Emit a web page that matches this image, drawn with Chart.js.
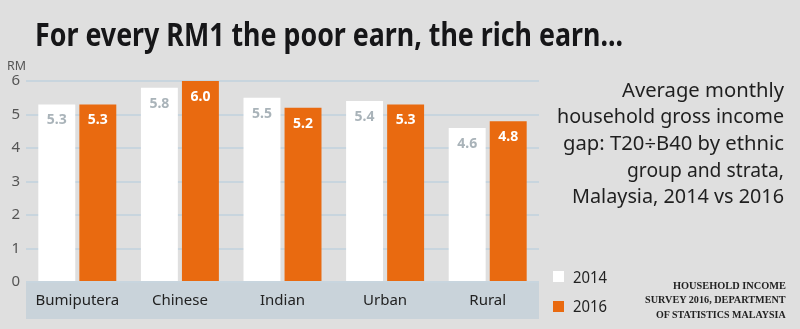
<!DOCTYPE html>
<html><head><meta charset="utf-8">
<script src="https://cdn.jsdelivr.net/npm/chart.js@4"></script>
<style>
html,body{margin:0;padding:0;background:#dfdfdf;}
#wrap{position:relative;width:800px;height:329px;overflow:hidden;background:#dfdfdf;}
#c{position:absolute;left:0;top:0;}
.t{position:absolute;white-space:nowrap;transform-origin:0 0;}
.sq{position:absolute;width:11px;height:11px;}
</style></head>
<body><div id="wrap"><canvas id="c" width="800" height="329"></canvas></div>
<script>
const categories = ['Bumiputera', 'Chinese', 'Indian', 'Urban', 'Rural'];
const seriesNames = ['2014', '2016'];
const values2014 = [5.3, 5.8, 5.5, 5.4, 4.6];
const values2016 = [5.3, 6.0, 5.2, 5.3, 4.8];
const yTicks = [0, 1, 2, 3, 4, 5, 6];

const wrap = document.getElementById('wrap');
const mctx = document.createElement('canvas').getContext('2d');
function place(text, o){
  const fontStr = `${o.weight||'normal'} ${o.size}px ${o.family}`;
  mctx.font = fontStr;
  const m = mctx.measureText(text);
  const asc = m.fontBoundingBoxAscent, desc = m.fontBoundingBoxDescent;
  const d = document.createElement('div');
  d.className = 't'; d.textContent = text;
  d.style.font = fontStr; d.style.lineHeight = (asc+desc)+'px'; d.style.color = o.color;
  const sx = o.width ? o.width / m.width : 1;
  const w = m.width * sx;
  const left = o.align === 'right' ? o.x - w : o.x;
  d.style.left = left+'px'; d.style.top = (o.baseline - asc)+'px';
  d.style.transform = `scaleX(${sx})`;
  wrap.appendChild(d);
}
const SANS = '"Noto Sans", sans-serif';
place('For every RM1 the poor earn, the rich earn...', {family:SANS, weight:'bold', size:33, color:'#161618', x:35, baseline:46, width:588});
place('RM', {family:SANS, size:13, color:'#555', x:7, baseline:70, width:19});
const sub = [
  ['Average monthly', 96.7, 162],
  ['household gross income', 123.3, 227],
  ['gap: T20÷B40 by ethnic', 150, 221],
  ['group and strata,', 176.7, 157],
  ['Malaysia, 2014 vs 2016', 203.3, 212]
];
sub.forEach(s => place(s[0], {family:SANS, size:19, color:'#1f1f1f', x:784, align:'right', baseline:s[1], width:s[2]}));
const src = [
  ['HOUSEHOLD INCOME', 289, 113],
  ['SURVEY 2016, DEPARTMENT', 303, 141],
  ['OF STATISTICS MALAYSIA', 317.5, 130]
];
src.forEach(s => place(s[0], {family:'"Liberation Serif", serif', weight:'bold', size:10.5, color:'#222', x:786, align:'right', baseline:s[1], width:s[2]}));

const ORANGE = '#e96a10';
function sq(x, y, c){ const d=document.createElement('div'); d.className='sq'; d.style.left=x+'px'; d.style.top=y+'px'; d.style.background=c; wrap.appendChild(d); }
sq(553, 271, '#ffffff'); sq(553, 300.5, ORANGE);
place(seriesNames[0], {family:SANS, size:17, color:'#222', x:573, baseline:283, width:34});
place(seriesNames[1], {family:SANS, size:17, color:'#222', x:573, baseline:312, width:34});

const bgPlugin = {
  id: 'bg',
  beforeDraw(chart){
    const {ctx, chartArea} = chart;
    ctx.save();
    ctx.fillStyle = '#c9d3da';
    ctx.fillRect(chartArea.left, 283, chartArea.right - chartArea.left, 36);
    ctx.restore();
  }
};
const labelPlugin = {
  id: 'vlabels',
  afterDatasetsDraw(chart){
    const ctx = chart.ctx;
    ctx.save();
    ctx.textAlign = 'center';
    ctx.textBaseline = 'middle';
    chart.data.datasets.forEach((ds, i) => {
      const meta = chart.getDatasetMeta(i);
      ctx.font = 'bold 14px "Noto Sans", sans-serif';
      ctx.fillStyle = i === 0 ? '#a9b3b9' : '#ffffff';
      meta.data.forEach((el, j) => {
        ctx.fillText(ds.data[j].toFixed(1), el.x, el.y + 16);
      });
    });
    ctx.restore();
  }
};

new Chart(document.getElementById('c'), {
  type: 'bar',
  data: {
    labels: categories,
    datasets: [
      {label: seriesNames[0], data: values2014, backgroundColor: '#ffffff', borderWidth: 0},
      {label: seriesNames[1], data: values2016, backgroundColor: ORANGE, borderWidth: 0}
    ]
  },
  options: {
    responsive: false,
    animation: false,
    devicePixelRatio: 1,
    layout: {padding: {left: 0, right: 261, top: 81, bottom: 10}},
    plugins: {legend: {display: false}, tooltip: {enabled: false}, title: {display: false}},
    datasets: {bar: {categoryPercentage: 0.8, barPercentage: 0.9}},
    scales: {
      x: {
        grid: {display: false, drawTicks: false},
        border: {display: false},
        ticks: {color: '#222', font: {family: '"Noto Sans", sans-serif', size: 15}, padding: 10},
        afterFit(s){ s.height = 37; }
      },
      y: {
        min: 0, max: 6,
        afterBuildTicks(s){ s.ticks = yTicks.map(v => ({value: v})); },
        grid: {color: '#c8d5de', lineWidth: 2, drawTicks: false},
        border: {display: false},
        ticks: {color: '#555', font: {family: '"Noto Sans", sans-serif', size: 15}, padding: 6},
        afterFit(s){ s.width = 26; }
      }
    }
  },
  plugins: [bgPlugin, labelPlugin]
});
</script>
</body></html>
